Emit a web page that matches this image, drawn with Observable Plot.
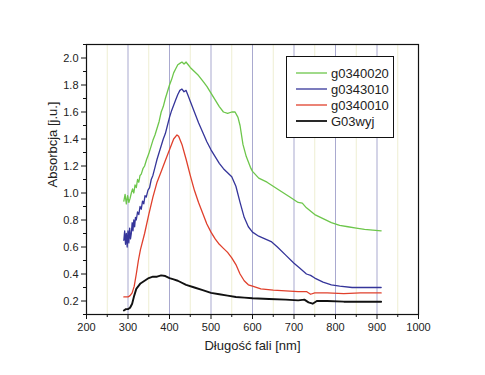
<!DOCTYPE html>
<html>
<head>
<meta charset="utf-8">
<script src="https://cdn.jsdelivr.net/npm/d3@7"></script>
<script src="https://cdn.jsdelivr.net/npm/@observablehq/plot@0.6"></script>
<style>
  html, body { margin: 0; padding: 0; background: #fff; }
  #wrap { position: relative; width: 485px; height: 375px; font-family: "Liberation Sans", Arial, sans-serif; }
  #legend { position: absolute; left: 286px; top: 56px; width: 108px; height: 82px; border: 1px solid #111; background: #fff; box-sizing: border-box; }
</style>
</head>
<body>
<div id="wrap"><div id="chart"></div><div id="legend"></div></div>
<script>
// ---------- data ----------
const seriesNames = ["g0340020", "g0343010", "g0340010", "G03wyj"];
const seriesColors = ["#6dc64b", "#35359a", "#e0402c", "#111111"];

const greenWl = [290,293,296,299,302,305,308,311,314,317,320,323,326,329,332,336,340,345,350,355,360,365,370,375,380,385,390,395,400,405,410,415,420,425,430,435,440,445,450,460,470,480,490,500,510,520,530,540,550,558,565,570,577,585,595,600,615,635,660,690,710,720,730,750,770,790,810,830,850,870,890,910];
const greenVal = [0.94,0.99,0.92,0.98,0.93,0.96,1.00,1.03,1.00,1.06,1.04,1.10,1.08,1.13,1.14,1.18,1.20,1.25,1.29,1.34,1.39,1.43,1.48,1.53,1.60,1.64,1.70,1.75,1.80,1.84,1.89,1.92,1.95,1.96,1.97,1.955,1.97,1.95,1.93,1.90,1.87,1.83,1.79,1.74,1.69,1.64,1.60,1.59,1.60,1.60,1.56,1.50,1.36,1.27,1.19,1.16,1.11,1.08,1.03,0.97,0.93,0.925,0.89,0.84,0.81,0.78,0.76,0.75,0.74,0.73,0.725,0.72];

const blueWl = [290,292,294,296,298,300,302,304,306,308,310,312,314,316,318,320,323,326,329,332,335,338,341,344,348,352,356,360,365,370,375,380,385,390,395,400,405,410,415,420,425,430,435,440,445,450,460,470,480,490,500,510,520,530,540,550,560,570,580,590,600,615,630,645,660,680,700,715,730,740,750,770,790,810,840,880,910];
const blueVal = [0.65,0.72,0.62,0.70,0.60,0.72,0.63,0.74,0.66,0.70,0.78,0.72,0.80,0.75,0.82,0.80,0.86,0.84,0.90,0.88,0.94,0.92,0.98,0.97,1.02,1.04,1.10,1.13,1.19,1.25,1.30,1.35,1.40,1.44,1.50,1.56,1.61,1.65,1.69,1.73,1.76,1.77,1.75,1.76,1.72,1.68,1.60,1.52,1.45,1.38,1.32,1.27,1.22,1.18,1.15,1.12,1.05,0.93,0.82,0.75,0.71,0.68,0.66,0.64,0.60,0.54,0.48,0.44,0.40,0.39,0.37,0.34,0.32,0.31,0.30,0.30,0.30];

const redWl = [290,295,300,305,310,315,320,325,330,340,350,360,370,380,390,400,410,418,422,430,440,450,460,470,480,490,500,510,520,530,540,550,560,570,580,590,600,620,650,680,710,730,740,750,780,820,860,910];
const redVal = [0.23,0.23,0.23,0.24,0.26,0.31,0.40,0.50,0.58,0.70,0.84,0.97,1.08,1.16,1.24,1.32,1.40,1.43,1.42,1.36,1.25,1.13,1.02,0.93,0.85,0.77,0.71,0.66,0.62,0.59,0.56,0.52,0.47,0.40,0.35,0.32,0.31,0.29,0.28,0.275,0.27,0.27,0.25,0.26,0.26,0.255,0.26,0.26];

const blackWl = [290,295,300,305,310,315,320,325,330,340,350,360,370,380,390,400,410,420,440,460,480,500,520,540,560,580,600,640,680,710,725,735,745,755,780,820,860,910];
const blackVal = [0.13,0.14,0.14,0.15,0.18,0.24,0.29,0.31,0.33,0.35,0.37,0.38,0.38,0.39,0.385,0.37,0.36,0.35,0.32,0.30,0.28,0.26,0.25,0.24,0.23,0.225,0.22,0.215,0.21,0.205,0.21,0.19,0.18,0.20,0.20,0.195,0.195,0.195];

const xMajorTicks = [200,300,400,500,600,700,800,900,1000];
const xMinorTicks = [250,350,450,550,650,750,850,950];
const yMajorTicks = [0.2,0.4,0.6,0.8,1.0,1.2,1.4,1.6,1.8,2.0];
const yMinorTicks = [0.1,0.3,0.5,0.7,0.9,1.1,1.3,1.5,1.7,1.9,2.1];
const gridMajor = [300,400,500,600,700,800,900];
const gridMinor = [250,350,450,550,650,750,850,950];
const xTitle = "Długość fali [nm]";
const yTitle = "Absorbcja [j.u.]";

// ---------- build table ----------
const wls = [greenWl, blueWl, redWl, blackWl];
const vals = [greenVal, blueVal, redVal, blackVal];
const rows = [];
seriesNames.forEach((name, i) => {
  wls[i].forEach((w, j) => rows.push({series: name, wl: w, v: vals[i][j]}));
});

const font = "\"Liberation Sans\", Arial, sans-serif";

const chart = Plot.plot({
  width: 485,
  height: 375,
  marginLeft: 86,
  marginRight: 67,
  marginTop: 44,
  marginBottom: 61,
  style: {fontFamily: font, background: "#fff", color: "#222"},
  x: {domain: [200, 1000]},
  y: {domain: [0.1, 2.1]},
  color: {domain: seriesNames, range: seriesColors},
  marks: [
    Plot.ruleX(gridMinor, {stroke: "#eeeed2", strokeWidth: 1}),
    Plot.ruleX(gridMajor, {stroke: "#a9a9cf", strokeWidth: 1}),
    Plot.line(rows.filter(d => d.series !== "G03wyj"), {x: "wl", y: "v", z: "series", stroke: "series", strokeWidth: 1.3}),
    Plot.line(rows.filter(d => d.series === "G03wyj"), {x: "wl", y: "v", stroke: "series", strokeWidth: 1.9}),
    Plot.frame({stroke: "#111", strokeWidth: 1.2}),
    Plot.axisX({ticks: xMajorTicks, tickSize: 5, tickFormat: d => String(d), label: null, fontSize: 11, tickPadding: 4, stroke: "#111"}),
    Plot.axisX({ticks: xMinorTicks, tickSize: 3, tickFormat: () => "", label: null, stroke: "#111"}),
    Plot.axisY({ticks: yMajorTicks, tickSize: 5, tickFormat: d => d.toFixed(1), label: null, fontSize: 11, tickPadding: 3, stroke: "#111"}),
    Plot.axisY({ticks: yMinorTicks, tickSize: 3, tickFormat: () => "", label: null, stroke: "#111"}),
    Plot.text([xTitle], {frameAnchor: "bottom", dy: 35, fontSize: 13, fill: "#222"}),
    Plot.text([yTitle], {frameAnchor: "left", dx: -34, dy: 8, rotate: -90, fontSize: 13, fill: "#222"})
  ]
});
document.getElementById("chart").appendChild(chart);

// ---------- legend ----------
const leg = d3.select("#legend").append("svg").attr("width", 106).attr("height", 80)
  .style("font-family", font);
seriesNames.forEach((name, i) => {
  const g = leg.append("g").attr("transform", `translate(0,${16 + i * 16})`);
  g.append("line").attr("x1", 9).attr("x2", 40).attr("y1", 0).attr("y2", 0)
    .attr("stroke", seriesColors[i]).attr("stroke-width", i === 3 ? 1.8 : 1.3);
  g.append("text").attr("x", 44).attr("y", 0).attr("dy", "0.36em")
    .attr("font-size", 13).attr("fill", "#222").text(name);
});
</script>
</body>
</html>
